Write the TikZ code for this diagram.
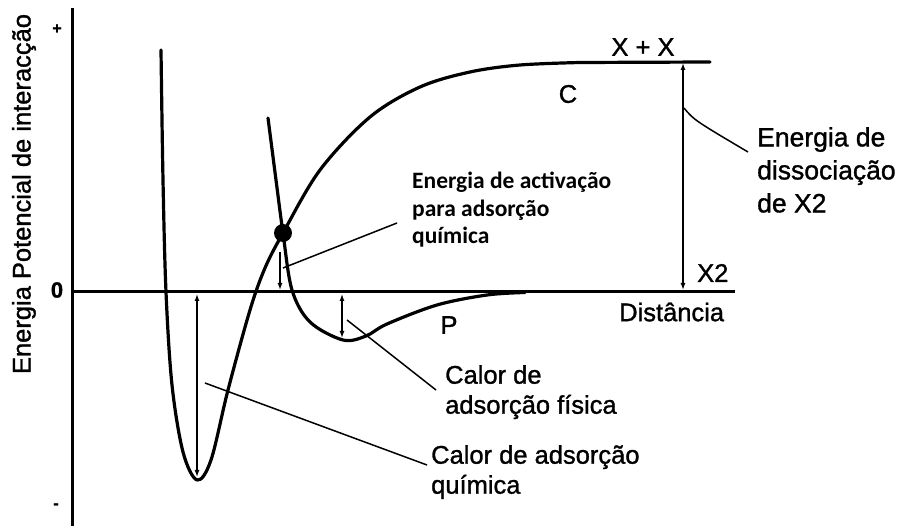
\documentclass[tikz,border=0pt]{standalone}
\usepackage{fontspec}
\setmainfont{Liberation Sans}[FakeBold=1.2]
\newfontfamily\calib{Carlito}
\usetikzlibrary{arrows.meta}
\begin{document}
\begin{tikzpicture}[x=1pt,y=-1pt,
  curve/.style={line width=3.2pt,line cap=round,line join=round},
  axisline/.style={line width=3pt},
  dim/.style={line width=1.3pt,{Latex[length=7pt,width=5pt]}-{Latex[length=7pt,width=5pt]}},
  dimone/.style={line width=1.3pt,-{Latex[length=7pt,width=5pt]}},
  lbl/.style={line width=1.5pt},
  txt/.style={font=\fontsize{25.5}{30}\selectfont,inner sep=0pt},
  tick/.style={font=\bfseries\fontsize{16}{18}\selectfont,inner sep=0pt},
  txtc/.style={font=\calib\bfseries\fontsize{23.5}{27.5}\selectfont,inner sep=0pt}]
\useasboundingbox (0,0) rectangle (906,526);
\fill[white] (0,0) rectangle (906,526);
% axes
\draw[axisline] (72,8) -- (72,526);
\draw[axisline] (72,292) -- (735,292);
\node[tick] (plus) at (57,29) {+};
\node[txt,font=\bfseries\fontsize{22}{24}\selectfont] (zero) at (57,290) {0};
\node[tick] (minus) at (56,506) {-};
\node[txt,rotate=90] (ylab) at (24,194) {Energia Potencial de interacção};
% chemical curve C
\draw[curve] plot[smooth,tension=0.55] coordinates {(161,50) (163,180) (166,292) (172,385) (183,452) (197,480) (211,460) (228,390) (250,310) (265,268) (283,233) (320,170) (370,117) (420,87) (470,72) (520,65) (580,62.5)} -- (710,62);
% physical curve P
\draw[curve] plot[smooth,tension=0.55] coordinates {(268,118) (276,180) (283,233) (292,290) (310,322) (343,340) (366,336) (387,324) (437,305) (487,295) (525,292.5)};
% intersection dot
\fill (283,233) circle (9);
\coordinate (dot) at (283,233);
% dimension arrows
\coordinate (xxtop) at (683,63);
\coordinate (xxbot) at (683,290);
\draw[dim] (xxtop) -- (xxbot);
\coordinate (actA) at (280,252);
\coordinate (actB) at (280,290);
\draw[dimone] (actA) -- (actB);
\coordinate (fisA) at (342,294);
\coordinate (fisB) at (342,338);
\draw[dim] (fisA) -- (fisB);
\coordinate (quiA) at (197,294);
\coordinate (quiB) at (197,477);
\draw[dim] (quiA) -- (quiB);
% text labels
\node[txt] (xx) at (643,47) {X + X};
\node[txt] (clab) at (568,94) {C};
\node[txt,anchor=west] (x2) at (697,273) {X2};
\node[txt,anchor=west] (dist) at (619,312) {Distância};
\node[txt,anchor=north west,align=left,font=\fontsize{26.5}{33}\selectfont] (diss) at (757,127) {Energia de\\dissociação\\de X2};
\node[txtc,anchor=north west,align=left] (act) at (412,172) {Energia de activação\\para adsorção\\ química};
\node[txt] (p) at (449,325) {P};
\node[txt,anchor=north west,align=left] (fis) at (445,365) {Calor de\\adsorção física};
\node[txt,anchor=north west,align=left] (qui) at (431,445) {Calor de adsorção\\química};
% leader lines
\coordinate (dissS) at (684,108);
\coordinate (dissE) at (748,152);
\draw[lbl] (dissS) .. controls (694,120) .. (dissE);
\coordinate (actS) at (283,268);
\coordinate (actE) at (397,223);
\draw[lbl] (actS) -- (actE);
\coordinate (fisS) at (347,320);
\coordinate (fisE) at (436,390);
\draw[lbl] (fisS) -- (fisE);
\coordinate (quiS) at (205,383);
\coordinate (quiE) at (427,465);
\draw[lbl] (quiS) -- (quiE);
\end{tikzpicture}
\end{document}
